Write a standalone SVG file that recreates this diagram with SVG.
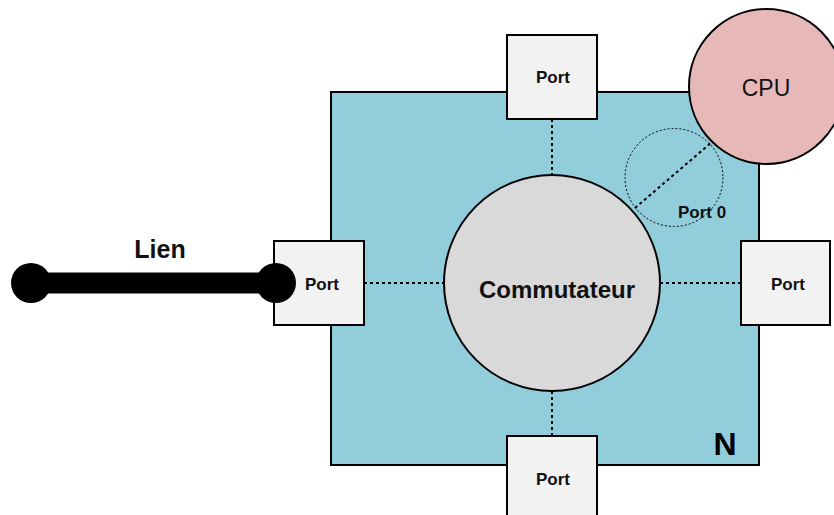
<svg xmlns="http://www.w3.org/2000/svg" width="834" height="515" viewBox="0 0 834 515">
<style>
.port{fill:#F2F2F2;stroke:#000;stroke-width:2}
.pl{font-family:"Liberation Sans",Arial,sans-serif;font-weight:bold;font-size:17px;text-anchor:middle;fill:#111}
.dot{stroke:#000;stroke-width:2;stroke-dasharray:3 3;fill:none}
</style>
<rect width="834" height="515" fill="#fff"/>
<g id="node-N">
<rect x="331" y="92" width="428" height="373" fill="#92CDDC" stroke="#000" stroke-width="2"/>
<text x="725" y="455" font-family="Liberation Sans,Arial,sans-serif" font-weight="bold" font-size="32" text-anchor="middle">N</text>
</g>
<g id="connectors">
<line class="dot" x1="364" y1="283" x2="444" y2="283"/>
<line class="dot" x1="660" y1="283" x2="741" y2="283"/>
<line class="dot" x1="552" y1="119" x2="552" y2="175"/>
<line class="dot" x1="552" y1="391" x2="552" y2="436"/>
<line class="dot" x1="635" y1="208" x2="712" y2="142"/>
</g>
<g id="node-port0">
<circle cx="674" cy="177.5" r="49" fill="none" stroke="#000" stroke-width="1" stroke-dasharray="2 2"/>
<text x="702" y="218" class="pl">Port 0</text>
</g>
<g id="node-commutateur">
<circle cx="552" cy="283" r="108" fill="#D9D9D9" stroke="#000" stroke-width="2"/>
<text x="557" y="298" font-family="Liberation Sans,Arial,sans-serif" font-weight="bold" font-size="24" text-anchor="middle" fill="#111">Commutateur</text>
</g>
<g id="node-cpu">
<circle cx="766.5" cy="86.5" r="77.5" fill="#E6B8B7" stroke="#000" stroke-width="2"/>
<text x="766" y="96" font-family="Liberation Sans,Arial,sans-serif" font-size="23" text-anchor="middle" fill="#111">CPU</text>
</g>
<g id="node-port-top">
<rect class="port" x="507" y="35" width="90" height="84"/>
<text class="pl" x="553" y="83">Port</text>
</g>
<g id="node-port-bottom">
<rect class="port" x="507" y="436" width="90" height="90"/>
<text class="pl" x="553" y="485">Port</text>
</g>
<g id="node-port-right">
<rect class="port" x="741" y="241" width="89" height="84"/>
<text class="pl" x="788" y="290">Port</text>
</g>
<g id="node-port-left">
<rect class="port" x="274" y="241" width="90" height="84"/>
<text class="pl" x="322" y="290">Port</text>
</g>
<g id="lien">
<line x1="31" y1="283" x2="276" y2="283" stroke="#000" stroke-width="21"/>
<circle cx="31" cy="283" r="20" fill="#000"/>
<circle cx="276" cy="283" r="20" fill="#000"/>
<text x="160" y="258" font-family="Liberation Sans,Arial,sans-serif" font-weight="bold" font-size="25" text-anchor="middle" fill="#111">Lien</text>
</g>
</svg>
